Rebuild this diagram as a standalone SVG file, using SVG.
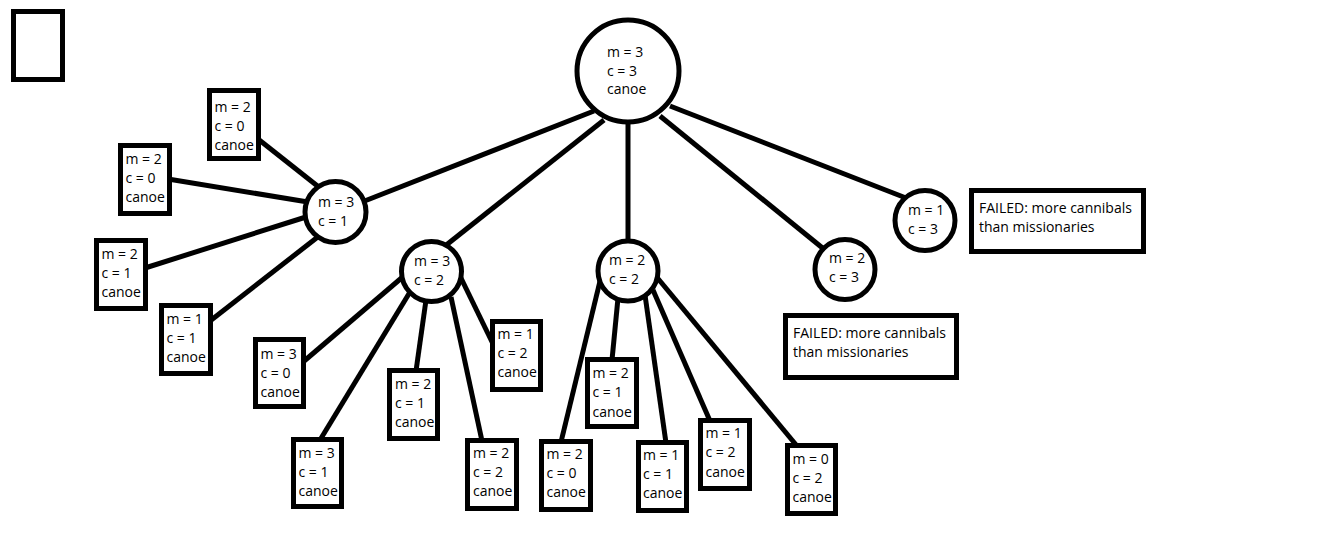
<svg xmlns="http://www.w3.org/2000/svg" width="1336" height="536" viewBox="0 0 1336 536">
<style>
.n{fill:#fff;stroke:#000;stroke-width:5}
.e line{stroke:#000;stroke-width:5}
text{font-family:"Open Sans","Noto Sans","DejaVu Sans",sans-serif;font-size:14px;fill:#000}
</style>
<rect width="1336" height="536" fill="#fff"/>
<g id="legend"><rect class="n" x="13.5" y="11.5" width="49" height="68"/></g>
<g class="e" id="connectors">
<line x1="594" y1="111" x2="362" y2="202"/>
<line x1="604" y1="120" x2="445" y2="246"/>
<line x1="628" y1="118" x2="628" y2="244"/>
<line x1="660" y1="116" x2="825" y2="250"/>
<line x1="670" y1="106" x2="906" y2="198"/>
<line x1="258" y1="139" x2="320" y2="188"/>
<line x1="168" y1="179" x2="308" y2="202"/>
<line x1="145" y1="268" x2="306" y2="217"/>
<line x1="210" y1="321" x2="319" y2="236"/>
<line x1="303" y1="362" x2="405" y2="275"/>
<line x1="320" y1="440" x2="410" y2="292"/>
<line x1="416" y1="371" x2="426" y2="300"/>
<line x1="482" y1="441" x2="451" y2="297"/>
<line x1="494" y1="346" x2="460" y2="276"/>
<line x1="561" y1="442" x2="601" y2="277"/>
<line x1="612" y1="360" x2="618" y2="298"/>
<line x1="666" y1="443" x2="645" y2="295"/>
<line x1="710" y1="421" x2="653" y2="290"/>
<line x1="797" y1="446" x2="655" y2="275"/>
</g>
<g id="root"><circle class="n" cx="628" cy="71" r="51"/><text x="607" y="57">m = 3</text><text x="607" y="75.5">c = 3</text><text x="607" y="94">canoe</text></g>
<g id="s31"><circle class="n" cx="335.5" cy="212" r="30.5"/><text x="318" y="207">m = 3</text><text x="318" y="226">c = 1</text></g>
<g id="s32"><circle class="n" cx="431.5" cy="271.5" r="30"/><text x="414" y="266">m = 3</text><text x="414" y="285">c = 2</text></g>
<g id="s22"><circle class="n" cx="628" cy="271" r="30"/><text x="609" y="265">m = 2</text><text x="609" y="284">c = 2</text></g>
<g id="s23"><circle class="n" cx="845" cy="269.5" r="30"/><text x="829" y="263">m = 2</text><text x="829" y="282">c = 3</text></g>
<g id="s13"><circle class="n" cx="925" cy="220.5" r="30"/><text x="908" y="215">m = 1</text><text x="908" y="233.5">c = 3</text></g>
<g id="f1"><rect class="n" x="971.5" y="190.5" width="172" height="61"/><text x="979" y="213">FAILED: more cannibals</text><text x="979" y="232">than missionaries</text></g>
<g id="f2"><rect class="n" x="785.5" y="315.5" width="171" height="62"/><text x="793" y="338">FAILED: more cannibals</text><text x="793" y="357">than missionaries</text></g>
<g id="b1"><rect class="n" x="209.5" y="90.5" width="49" height="68"/><text x="214.5" y="112">m = 2</text><text x="214.5" y="131">c = 0</text><text x="214.5" y="150">canoe</text></g>
<g id="b2"><rect class="n" x="120.5" y="145.5" width="49" height="68"/><text x="125.5" y="164">m = 2</text><text x="125.5" y="183">c = 0</text><text x="125.5" y="202">canoe</text></g>
<g id="b3"><rect class="n" x="96.5" y="240.5" width="49" height="68"/><text x="101.5" y="259">m = 2</text><text x="101.5" y="278">c = 1</text><text x="101.5" y="297">canoe</text></g>
<g id="b4"><rect class="n" x="161.5" y="305.5" width="49" height="68"/><text x="166.5" y="324">m = 1</text><text x="166.5" y="343">c = 1</text><text x="166.5" y="362">canoe</text></g>
<g id="b5"><rect class="n" x="255.5" y="339.5" width="48" height="67"/><text x="260.5" y="359">m = 3</text><text x="260.5" y="378">c = 0</text><text x="260.5" y="397">canoe</text></g>
<g id="b6"><rect class="n" x="293.5" y="439.5" width="48" height="67"/><text x="298.5" y="458">m = 3</text><text x="298.5" y="477">c = 1</text><text x="298.5" y="496">canoe</text></g>
<g id="b7"><rect class="n" x="389.5" y="370.5" width="48" height="68"/><text x="395" y="389">m = 2</text><text x="395" y="408">c = 1</text><text x="395" y="427">canoe</text></g>
<g id="b8"><rect class="n" x="467.5" y="440.5" width="49" height="68"/><text x="473" y="458">m = 2</text><text x="473" y="477">c = 2</text><text x="473" y="496">canoe</text></g>
<g id="b9"><rect class="n" x="492.5" y="321.5" width="48" height="68"/><text x="497.5" y="339">m = 1</text><text x="497.5" y="358">c = 2</text><text x="497.5" y="377">canoe</text></g>
<g id="b10"><rect class="n" x="541.5" y="441.5" width="49" height="68"/><text x="546.5" y="459">m = 2</text><text x="546.5" y="478">c = 0</text><text x="546.5" y="497">canoe</text></g>
<g id="b11"><rect class="n" x="587.5" y="359.5" width="49" height="67"/><text x="592.5" y="378">m = 2</text><text x="592.5" y="397">c = 1</text><text x="592.5" y="416.5">canoe</text></g>
<g id="b12"><rect class="n" x="638.5" y="442.5" width="48" height="68"/><text x="643" y="460">m = 1</text><text x="643" y="479">c = 1</text><text x="643" y="498">canoe</text></g>
<g id="b13"><rect class="n" x="700.5" y="420.5" width="49" height="68"/><text x="705.5" y="438">m = 1</text><text x="705.5" y="457">c = 2</text><text x="705.5" y="476.5">canoe</text></g>
<g id="b14"><rect class="n" x="787.5" y="445.5" width="48" height="68"/><text x="792.5" y="464">m = 0</text><text x="792.5" y="483">c = 2</text><text x="792.5" y="502">canoe</text></g>
</svg>
